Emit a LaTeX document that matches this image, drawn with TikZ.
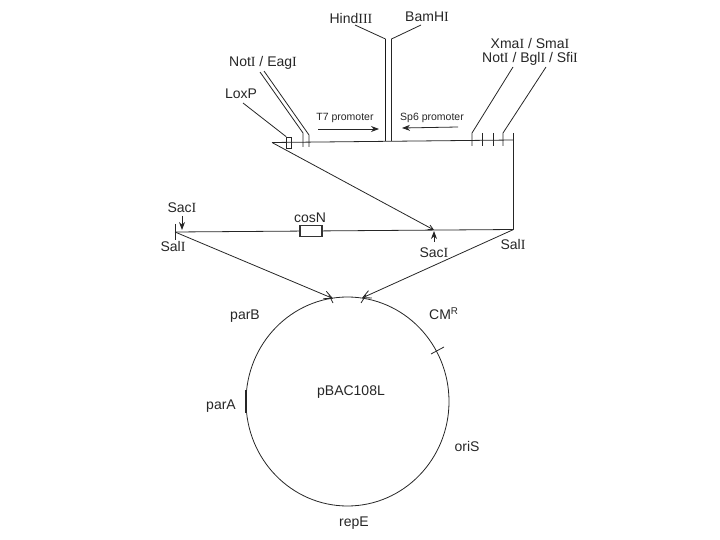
\documentclass[tikz,border=0pt]{standalone}
\usepackage{fontspec}
\setmainfont{Liberation Sans}
\newfontfamily\serI{Liberation Serif}
\newcommand{\sI}{{\serI I}}
\usetikzlibrary{arrows.meta,shapes.geometric}
\tikzset{
  ln/.style={draw=black!85,line width=0.8pt},
  hv/.style={draw=black!90,line width=1.2pt},
  lab/.style={font=\fontsize{14}{15}\selectfont,text=black!85,inner sep=0pt},
  smlab/.style={font=\fontsize{10.5}{12}\selectfont,text=black!85,inner sep=0pt},
  barb/.style={-{Straight Barb[length=8pt,width=8pt]}},
  smallbarb/.style={-{Straight Barb[length=5pt,width=5pt]}},
  solidtip/.style={-{Stealth[length=8pt,width=6pt]}}
}
\begin{document}
\begin{tikzpicture}[x=1pt,y=-1pt]
\useasboundingbox (0,0) rectangle (720,540);
% coordinates
\coordinate (tip) at (272,142.5);
\coordinate (vl) at (385.5,141);
\coordinate (vr) at (391.5,141);
\coordinate (re) at (513.5,140);
\coordinate (vlt) at (385.5,39);
\coordinate (vrt) at (391.5,39);
\coordinate (hi) at (355,25);
\coordinate (ba) at (421,25);
\coordinate (ml) at (175,232);
\coordinate (mr) at (513.5,229.5);
\coordinate (sacr) at (434,230);
% top backbone
\draw[ln] (tip) -- (re) -- (mr);
\draw[ln,smallbarb] (tip) -- (sacr);
\draw[ln] (513.5,133) -- (re);
% MCS centre
\draw[ln] (hi) -- (vlt);
\draw[hv] (vlt) -- (vl);
\draw[ln] (ba) -- (vrt) -- (vr);
\node[lab] (hind) at (351,18) {Hind\sI\sI\sI};
\node[lab] (bam) at (427,17) {BamH\sI};
% NotI/EagI
\coordinate (n1) at (260,72);
\coordinate (n1b) at (303,133);
\coordinate (n2) at (264,71);
\coordinate (n2b) at (309,135);
\draw[ln] (n1) -- (n1b) -- (303,147);
\draw[ln] (n2) -- (n2b) -- (309,147);
\node[lab] (note) at (263,63) {Not\sI\ / Eag\sI};
% LoxP
\node[draw=black!85,line width=0.7pt,minimum width=5pt,minimum height=11pt,inner sep=0pt] (box) at (289,142.5) {};
\coordinate (lx) at (243,103);
\draw[ln] (lx) -- (box.north west);
\node[lab] (lox) at (241,94) {LoxP};
% promoters
\node[smlab] (t7) at (345,118) {T7 promoter};
\node[smlab] (sp6) at (432,118) {Sp6 promoter};
\coordinate (t7a) at (318,129);
\coordinate (t7b) at (379,129);
\coordinate (spa) at (458,127);
\coordinate (spb) at (402,128);
\draw[ln,solidtip] (t7a) -- (t7b);
\draw[ln,solidtip] (spa) -- (spb);
% right MCS
\draw[ln] (513,67) -- (472,133) -- (472,146);
\draw[ln] (546,67) -- (503,133) -- (503,146);
\draw[ln] (482.5,133) -- (482.5,146);
\draw[ln] (493,133) -- (493,146);
\node[lab] (xma) at (530,43) {Xma\sI\ / Sma\sI};
\node[lab] (not2) at (530,59) {Not\sI\ / Bgl\sI\ / Sfi\sI};
% middle line
\draw[ln] (ml) -- (mr);
\draw[ln] (175,224) -- (175,240);
\node[draw=black!80,fill=white,line width=1.1pt,minimum width=22pt,minimum height=11pt,inner sep=0pt] (cos) at (311,231) {};
\node[lab] (cosl) at (310,218) {cosN};
\node[lab] (sacl) at (182,208) {Sac\sI};
\node[lab] (sall) at (173,246) {Sal\sI};
\node[lab] (sacrl) at (434,253) {Sac\sI};
\node[lab] (sarl) at (513,244) {Sal\sI};
\coordinate (al) at (182,216);
\coordinate (alb) at (182,230);
\coordinate (ar) at (434,242);
\coordinate (arb) at (434,231);
\draw[ln,solidtip] (al) -- (alb);
\draw[ln,solidtip] (ar) -- (arb);
% plasmid
\node[draw=black!85,line width=0.8pt,ellipse,minimum width=203pt,minimum height=209pt,inner sep=0pt] (pl) at (347.5,401.5) {};
\draw[ln,barb] (ml) -- (333,298.5);
\draw[ln,barb] (mr) -- (362,298);
\draw[ln] (329,295) -- (333,303);
\draw[ln] (366,295) -- (361,303);
\draw[ln] (431,354) -- (444,347);
\draw[line width=1.4pt,draw=black!85] (246,390) -- (246,413);
\node[lab] (pbac) at (351,392) {pBAC108L};
\node[lab] (parb) at (245,316) {parB};
\node[lab] (para) at (221,406) {parA};
\node[lab,anchor=west] (cm) at (429,314) {CM\textsuperscript{R}};
\node[lab] (oris) at (467,446) {oriS};
\node[lab] (repe) at (354,523) {repE};
\end{tikzpicture}
\end{document}
